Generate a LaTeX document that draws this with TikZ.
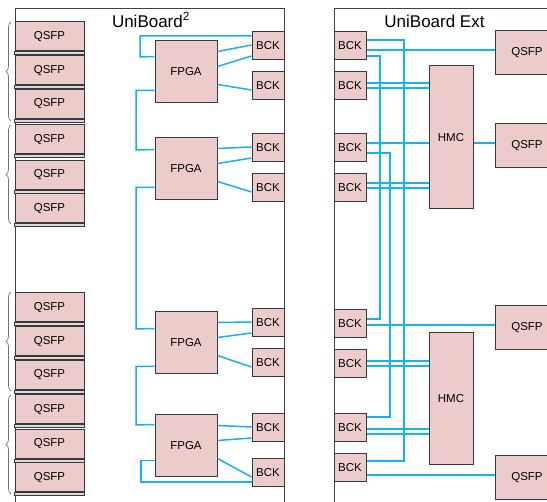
\documentclass[tikz,border=0pt]{standalone}
\usepackage{fontspec}
\setmainfont{Liberation Sans}
\usetikzlibrary{calc,decorations.pathreplacing}
\definecolor{boxfill}{HTML}{EBCCCB}
\definecolor{boxline}{HTML}{3A3A3A}
\definecolor{link}{HTML}{17B2EC}
\definecolor{cagefill}{HTML}{D9DADB}
\tikzset{
  base/.style={draw=boxline,line width=1pt,fill=boxfill,inner sep=0pt,font=\fontsize{11.5}{12}\selectfont},
  qsfp/.style={base,minimum width=69pt,minimum height=29pt},
  rqsfp/.style={base,minimum width=64pt,minimum height=44pt},
  fpga/.style={base,minimum width=62pt,minimum height=62pt},
  bck/.style={base,minimum width=32pt,minimum height=28pt},
  hmc/.style={base,minimum width=44pt},
  cage/.style={draw=boxline,line width=0.6pt,fill=cagefill},
  board/.style={draw=black!75,line width=0.9pt},
  lnk/.style={draw=link,line width=1.5pt},
  brc/.style={draw=black!55,line width=0.7pt,decorate,decoration={brace,amplitude=5pt}},
  title/.style={font=\fontsize{17}{19}\selectfont}
}
\begin{document}
\begin{tikzpicture}[x=1pt,y=-1pt]
\clip (0,0) rectangle (547,502);
\fill[white] (0,0) rectangle (547,502);
% boards
\draw[board] (15,520) -- (15,8) -- (284.5,8) -- (284.5,520);
\draw[board] (334,520) -- (334,8) -- (570,8);
\node[title] (t1) at (151,20) {UniBoard\textsuperscript{2}};
\node[title] (t2) at (434.5,21) {UniBoard Ext};
% left QSFPs
\foreach \n/\y in {1/36.5,2/70.5,3/104,4/139.5,5/175,6/208.5,7/307.5,8/341.5,9/375,10/409.5,11/444,12/477.5}{
  \node[qsfp] (q\n) at (49.5,\y) {QSFP};
  \draw[cage] (q\n.south west) rectangle ($(q\n.south east)+(0,3)$);
}
% braces
\coordinate (b1a) at (11,121); \coordinate (b1b) at (11,22);
\coordinate (b2a) at (11,224); \coordinate (b2b) at (11,125);
\coordinate (b3a) at (11,391); \coordinate (b3b) at (11,292);
\coordinate (b4a) at (11,494); \coordinate (b4b) at (11,395);
\draw[brc] (b1a) -- (b1b);
\draw[brc] (b2a) -- (b2b);
\draw[brc] (b3a) -- (b3b);
\draw[brc] (b4a) -- (b4b);
% FPGAs
\node[fpga] (f1) at (186,72) {FPGA};
\node[fpga] (f2) at (186,169) {FPGA};
\node[fpga] (f3) at (186,343) {FPGA};
\node[fpga] (f4) at (186,446) {FPGA};
% left BCKs
\foreach \n/\y in {1/46,2/86,3/148,4/188,5/323,6/363,7/428,8/473}{
  \node[bck] (lb\n) at (268,\y) {BCK};
}
% FPGA-BCK links
\foreach \f/\a/\b in {f1/lb1/lb2,f2/lb3/lb4,f3/lb5/lb6,f4/lb7/lb8}{
  \draw[lnk] ($(\f.north east)+(0,11)$) -- ($(\a.west)+(0,-1)$);
  \draw[lnk] ($(\f.north east)+(0,26)$) -- ($(\a.west)+(0,10)$);
  \draw[lnk] ($(\f.north east)+(0,44)$) -- ($(\b.west)+(0,4)$);
}
% left loops
\draw[lnk] ($(lb1.west)+(0,-10)$) -| (140,57) -- ($(f1.north west)+(0,16)$);
\draw[lnk] ($(f1.north west)+(0,50)$) -| (136,150) -- ($(f2.north west)+(0,12)$);
\draw[lnk] ($(f2.north west)+(0,50)$) -| (136,329) -- ($(f3.north west)+(0,17)$);
\draw[lnk] ($(f3.north west)+(0,55)$) -| (136,425) -- ($(f4.north west)+(0,10)$);
\draw[lnk] ($(f4.north west)+(0,46)$) -| (141,482) -- ($(lb8.west)+(0,9)$);
% right side
\foreach \n/\y in {1/46,2/86,3/148,4/188,5/323.5,6/363.5,7/428,8/468}{
  \node[bck] (rb\n) at (350,\y) {BCK};
}
\node[hmc,minimum height=143pt] (h1) at (451,137.5) {HMC};
\node[hmc,minimum height=132pt] (h2) at (451,399) {HMC};
\node[rqsfp] (rq1) at (527,52.5) {QSFP};
\node[rqsfp] (rq2) at (527,145.5) {QSFP};
\node[rqsfp] (rq3) at (527,328) {QSFP};
\node[rqsfp] (rq4) at (527,477.5) {QSFP};
% right links
\draw[lnk] ($(rb1.east)+(0,-6)$) -| (404,250) |- ($(rb8.east)+(0,-7)$);
\draw[lnk] ($(rb1.east)+(0,4)$) -- ($(rq1.west)+(0,-2.5)$);
\draw[lnk] ($(rb1.east)+(0,10)$) -| (380,200) |- ($(rb5.east)+(0,-4.5)$);
\draw[lnk] ($(rb2.east)+(0,-3)$) -- (h1.west |- {$(rb2.east)+(0,-3)$});
\draw[lnk] ($(rb2.east)+(0,2)$) -- (h1.west |- {$(rb2.east)+(0,2)$});
\draw[lnk] ($(rb3.east)+(0,-5)$) -- (h1.west |- {$(rb3.east)+(0,-5)$});
\draw[lnk] (h1.east |- {$(rb3.east)+(0,-5)$}) -- ($(rq2.west)+(0,-2.5)$);
\draw[lnk] ($(rb3.east)+(0,5)$) -| (390,300) |- ($(rb7.east)+(0,-11)$);
\draw[lnk] ($(rb4.east)+(0,-5)$) -- (h1.west |- {$(rb4.east)+(0,-5)$});
\draw[lnk] ($(rb4.east)+(0,0)$) -- (h1.west |- {$(rb4.east)+(0,0)$});
\draw[lnk] ($(rb5.east)+(0,1.5)$) -- ($(rq3.west)+(0,-3)$);
\draw[lnk] ($(rb6.east)+(0,-2.5)$) -- (h2.west |- {$(rb6.east)+(0,-2.5)$});
\draw[lnk] ($(rb6.east)+(0,2.5)$) -- (h2.west |- {$(rb6.east)+(0,2.5)$});
\draw[lnk] ($(rb7.east)+(0,1)$) -- (h2.west |- {$(rb7.east)+(0,1)$});
\draw[lnk] ($(rb7.east)+(0,6)$) -- (h2.west |- {$(rb7.east)+(0,6)$});
\draw[lnk] ($(rb8.east)+(0,7)$) -- ($(rq4.west)+(0,-2.5)$);
\end{tikzpicture}
\end{document}
